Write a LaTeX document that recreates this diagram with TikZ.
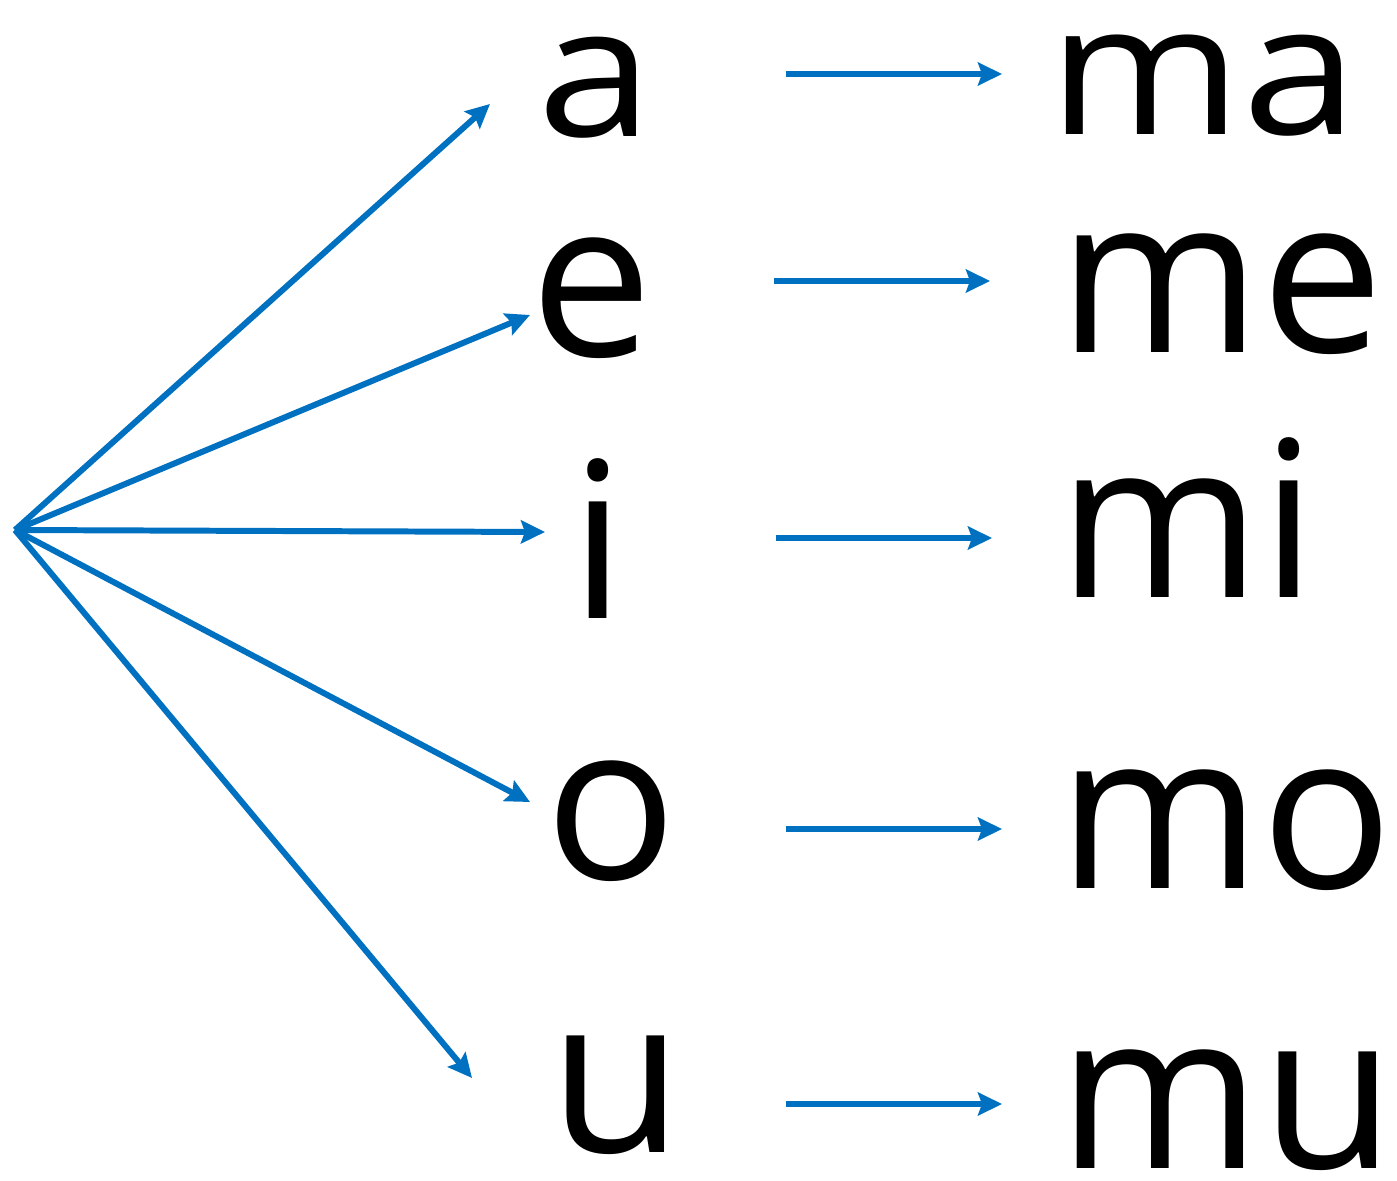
\documentclass[tikz,border=0pt]{standalone}
\usepackage{fontspec}
\setmainfont{Open Sans}
\usetikzlibrary{arrows.meta}

\definecolor{arrowblue}{HTML}{0070C0}

\tikzset{
  vowel/.style = {anchor=base, inner sep=0pt, font=\fontsize{62}{70}\selectfont},
  syllable/.style = {anchor=base west, inner sep=0pt, font=\fontsize{62}{70}\selectfont},
  smallrow/.style = {font=\fontsize{52}{60}\selectfont, xscale=1.14, transform shape},
  link/.style = {draw=arrowblue, line width=1.7pt,
    -{Stealth[length=0.24cm, width=0.23cm, inset=0.04cm]}}
}

\begin{document}
\begin{tikzpicture}
  \useasboundingbox (0,0) rectangle (13.97,-11.81);

  % start point
  \coordinate (src) at (0.15,-5.30);

  % vowels
  \node[vowel,smallrow] (a) at (5.95,-1.37) {a};
  \node[vowel] (e) at (5.92,-3.56) {e};
  \node[vowel] (i) at (5.98,-6.18) {i};
  \node[vowel] (o) at (6.11,-8.79) {o};
  \node[vowel] (u) at (6.16,-11.52) {u};

  % syllables
  \node[syllable,smallrow] (ma) at (10.48,-1.35) {ma};
  \node[syllable] (me) at (10.58,-3.52) {me};
  \node[syllable] (mi) at (10.58,-5.97) {mi};
  \node[syllable] (mo) at (10.58,-8.88) {mo};
  \node[syllable] (mu) at (10.58,-11.68) {mu};

  % arrow ends
  \coordinate (ta) at (4.90,-1.04);
  \coordinate (te) at (5.30,-3.15);
  \coordinate (ti) at (5.45,-5.32);
  \coordinate (to) at (5.30,-8.02);
  \coordinate (tu) at (4.72,-10.78);

  \coordinate (la) at (7.86,-0.74);  \coordinate (ra) at (10.02,-0.74);
  \coordinate (le) at (7.74,-2.81);  \coordinate (re) at (9.90,-2.81);
  \coordinate (li) at (7.76,-5.38);  \coordinate (ri) at (9.92,-5.38);
  \coordinate (lo) at (7.86,-8.29);  \coordinate (ro) at (10.02,-8.29);
  \coordinate (lu) at (7.86,-11.04); \coordinate (ru) at (10.02,-11.04);

  \foreach \v in {a,e,i,o,u}{
    \draw[link] (src) -- (t\v);
    \draw[link] (l\v) -- (r\v);
  }

\end{tikzpicture}
\end{document}
